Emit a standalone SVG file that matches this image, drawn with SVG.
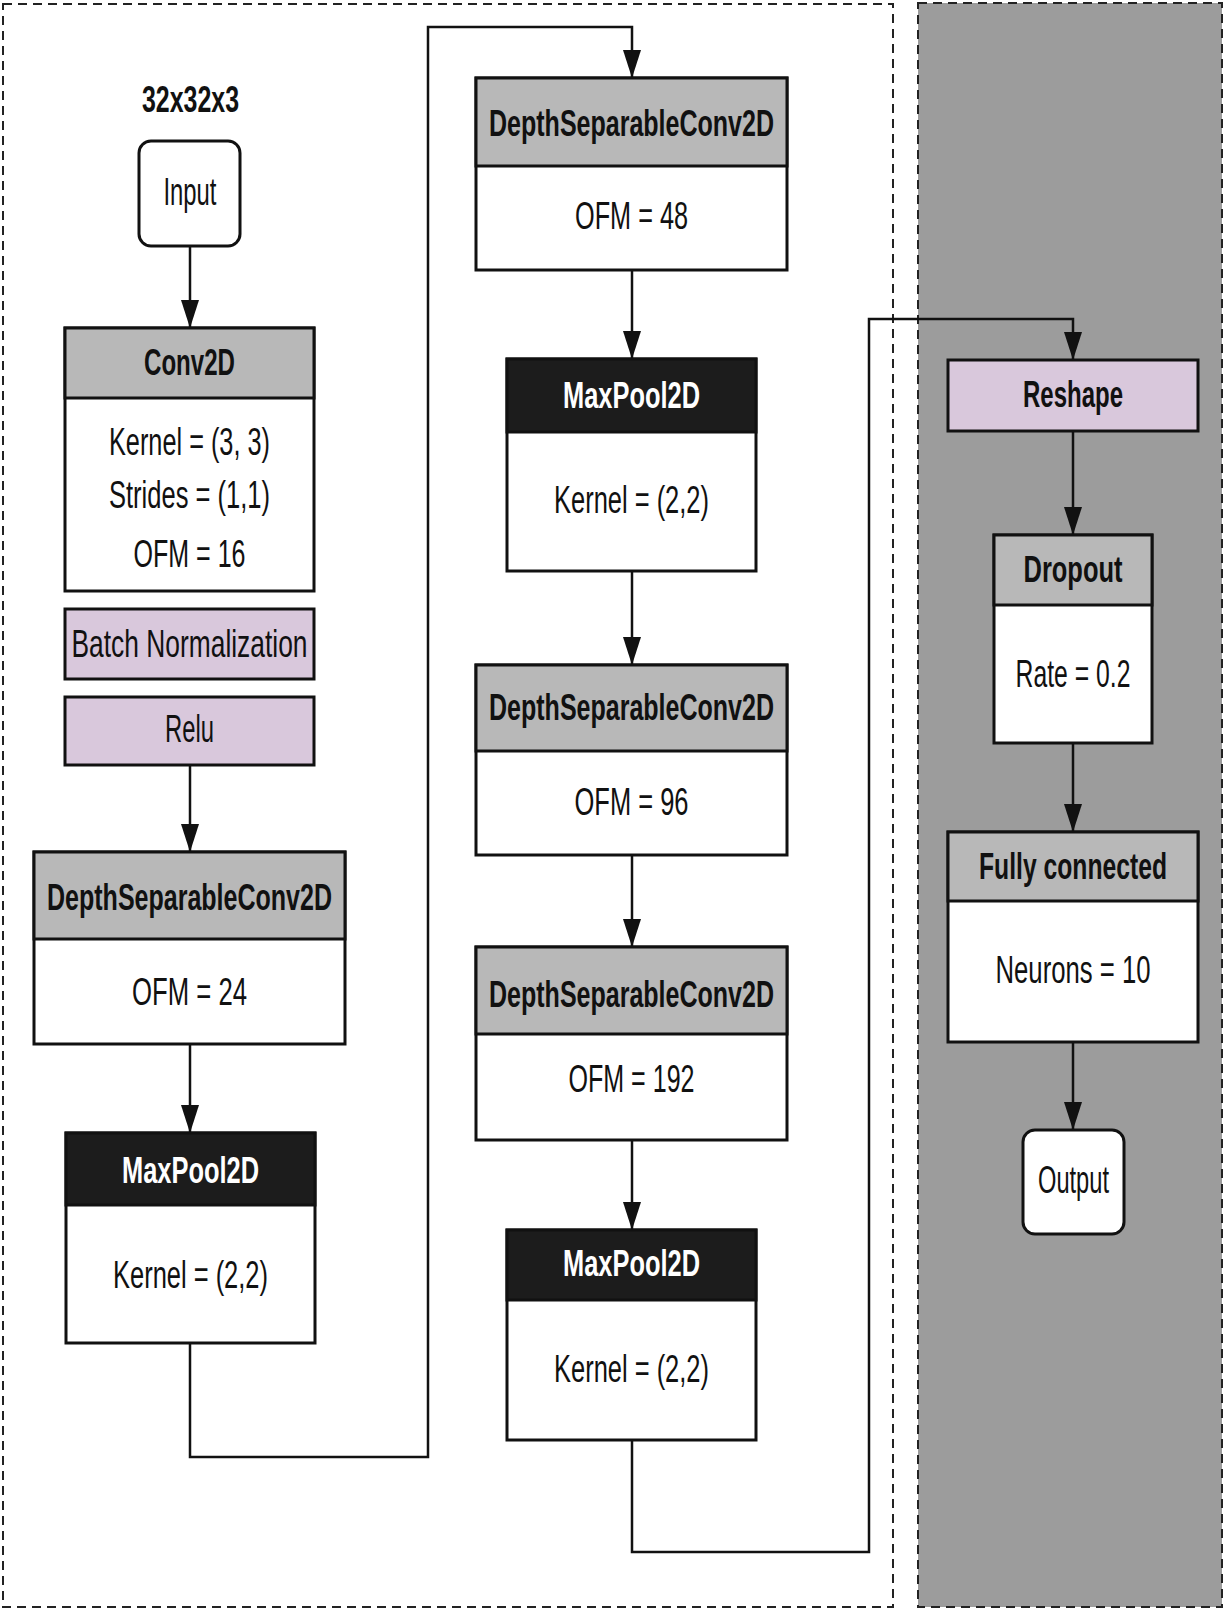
<svg xmlns="http://www.w3.org/2000/svg" width="1225" height="1610" viewBox="0 0 1225 1610">
<defs>
<style>
.box{stroke:#111;stroke-width:3;}
.hdr{fill:#b8b8b8;}
.blk{fill:#1c1c1c;}
.pur{fill:#d9c8dc;}
.wht{fill:#fff;}
.ht{font-family:"Liberation Sans",Arial,sans-serif;font-weight:bold;font-size:36px;fill:#111;text-anchor:middle;}
.htw{font-family:"Liberation Sans",Arial,sans-serif;font-weight:bold;font-size:36px;fill:#fff;text-anchor:middle;}
.bt{font-family:"Liberation Sans",Arial,sans-serif;font-size:39px;fill:#111;text-anchor:middle;}
.dash{fill:none;stroke:#222;stroke-width:2;stroke-dasharray:9 6;}
.conn{fill:none;stroke:#111;stroke-width:2.5;}
</style>
<marker id="arr" markerUnits="userSpaceOnUse" markerWidth="30" markerHeight="20" refX="28" refY="9" orient="auto">
<path d="M0,0 L28,9 L0,18 z" fill="#111"/>
</marker>
</defs>
<rect x="0" y="0" width="1225" height="1610" fill="#fff"/>
<g id="panels">
<rect x="918" y="3" width="304" height="1604" fill="#9c9c9c"/>
<rect class="dash" x="918" y="3" width="304" height="1604"/>
<rect class="dash" x="3" y="4" width="890" height="1603"/>
</g>
<g id="connectors">
<line class="conn" x1="190" y1="246" x2="190" y2="328" marker-end="url(#arr)"/>
<line class="conn" x1="190" y1="765" x2="190" y2="852" marker-end="url(#arr)"/>
<line class="conn" x1="190" y1="1044" x2="190" y2="1133" marker-end="url(#arr)"/>
<path class="conn" d="M190 1343 V1457 H428 V27 H632 V78" marker-end="url(#arr)"/>
<line class="conn" x1="632" y1="270" x2="632" y2="359" marker-end="url(#arr)"/>
<line class="conn" x1="632" y1="571" x2="632" y2="665" marker-end="url(#arr)"/>
<line class="conn" x1="632" y1="855" x2="632" y2="947" marker-end="url(#arr)"/>
<line class="conn" x1="632" y1="1140" x2="632" y2="1230" marker-end="url(#arr)"/>
<path class="conn" d="M632 1440 V1552 H869 V319 H1073 V360" marker-end="url(#arr)"/>
<line class="conn" x1="1073" y1="431" x2="1073" y2="535" marker-end="url(#arr)"/>
<line class="conn" x1="1073" y1="743" x2="1073" y2="832" marker-end="url(#arr)"/>
<line class="conn" x1="1073" y1="1042" x2="1073" y2="1130" marker-end="url(#arr)"/>
</g>
<g id="input-label">
<text class="ht" x="190.5" y="112" font-size="39" textLength="97" lengthAdjust="spacingAndGlyphs">32x32x3</text>
</g>
<g id="input">
<rect class="box wht" x="139" y="141" width="101" height="105" rx="12"/>
<text class="bt" x="190" y="205" font-size="35" textLength="53" lengthAdjust="spacingAndGlyphs">Input</text>
</g>
<g id="conv2d">
<rect class="box wht" x="65" y="328" width="249" height="263"/>
<rect class="box hdr" x="65" y="328" width="249" height="70"/>
<text class="ht" x="189.5" y="375" textLength="91" lengthAdjust="spacingAndGlyphs">Conv2D</text>
<text class="bt" x="189.5" y="455" textLength="161" lengthAdjust="spacingAndGlyphs">Kernel = (3, 3)</text>
<text class="bt" x="189.5" y="508" textLength="161" lengthAdjust="spacingAndGlyphs">Strides = (1,1)</text>
<text class="bt" x="189.5" y="567" textLength="112" lengthAdjust="spacingAndGlyphs">OFM = 16</text>
</g>
<g id="batchnorm">
<rect class="box pur" x="65" y="609" width="249" height="70"/>
<text class="bt" x="189.5" y="657" textLength="236" lengthAdjust="spacingAndGlyphs">Batch Normalization</text>
</g>
<g id="relu">
<rect class="box pur" x="65" y="697" width="249" height="68"/>
<text class="bt" x="189.5" y="742" textLength="49" lengthAdjust="spacingAndGlyphs">Relu</text>
</g>
<g id="dsc1">
<rect class="box wht" x="34" y="852" width="311" height="192"/>
<rect class="box hdr" x="34" y="852" width="311" height="87"/>
<text class="ht" x="189.5" y="910" textLength="285" lengthAdjust="spacingAndGlyphs">DepthSeparableConv2D</text>
<text class="bt" x="189.5" y="1005" textLength="115" lengthAdjust="spacingAndGlyphs">OFM = 24</text>
</g>
<g id="maxpool1">
<rect class="box wht" x="66" y="1133" width="249" height="210"/>
<rect class="box blk" x="66" y="1133" width="249" height="72"/>
<text class="htw" x="190.5" y="1183" textLength="137" lengthAdjust="spacingAndGlyphs">MaxPool2D</text>
<text class="bt" x="190.5" y="1288" textLength="155" lengthAdjust="spacingAndGlyphs">Kernel = (2,2)</text>
</g>
<g id="dsc2">
<rect class="box wht" x="476" y="78" width="311" height="192"/>
<rect class="box hdr" x="476" y="78" width="311" height="88"/>
<text class="ht" x="631.5" y="136" textLength="285" lengthAdjust="spacingAndGlyphs">DepthSeparableConv2D</text>
<text class="bt" x="631.5" y="229" textLength="113" lengthAdjust="spacingAndGlyphs">OFM = 48</text>
</g>
<g id="maxpool2">
<rect class="box wht" x="507" y="359" width="249" height="212"/>
<rect class="box blk" x="507" y="359" width="249" height="73"/>
<text class="htw" x="631.5" y="408" textLength="137" lengthAdjust="spacingAndGlyphs">MaxPool2D</text>
<text class="bt" x="631.5" y="513" textLength="155" lengthAdjust="spacingAndGlyphs">Kernel = (2,2)</text>
</g>
<g id="dsc3">
<rect class="box wht" x="476" y="665" width="311" height="190"/>
<rect class="box hdr" x="476" y="665" width="311" height="86"/>
<text class="ht" x="631.5" y="720" textLength="285" lengthAdjust="spacingAndGlyphs">DepthSeparableConv2D</text>
<text class="bt" x="631.5" y="815" textLength="114" lengthAdjust="spacingAndGlyphs">OFM = 96</text>
</g>
<g id="dsc4">
<rect class="box wht" x="476" y="947" width="311" height="193"/>
<rect class="box hdr" x="476" y="947" width="311" height="87"/>
<text class="ht" x="631.5" y="1007" textLength="285" lengthAdjust="spacingAndGlyphs">DepthSeparableConv2D</text>
<text class="bt" x="631.5" y="1092" textLength="126" lengthAdjust="spacingAndGlyphs">OFM = 192</text>
</g>
<g id="maxpool3">
<rect class="box wht" x="507" y="1230" width="249" height="210"/>
<rect class="box blk" x="507" y="1230" width="249" height="70"/>
<text class="htw" x="631.5" y="1276" textLength="137" lengthAdjust="spacingAndGlyphs">MaxPool2D</text>
<text class="bt" x="631.5" y="1382" textLength="155" lengthAdjust="spacingAndGlyphs">Kernel = (2,2)</text>
</g>
<g id="reshape">
<rect class="box pur" x="948" y="360" width="250" height="71"/>
<text class="ht" x="1073" y="407" textLength="100" lengthAdjust="spacingAndGlyphs">Reshape</text>
</g>
<g id="dropout">
<rect class="box wht" x="994" y="535" width="158" height="208"/>
<rect class="box hdr" x="994" y="535" width="158" height="70"/>
<text class="ht" x="1073" y="582" textLength="99" lengthAdjust="spacingAndGlyphs">Dropout</text>
<text class="bt" x="1073" y="687" textLength="115" lengthAdjust="spacingAndGlyphs">Rate = 0.2</text>
</g>
<g id="fully-connected">
<rect class="box wht" x="948" y="832" width="250" height="210"/>
<rect class="box hdr" x="948" y="832" width="250" height="69"/>
<text class="ht" x="1073" y="879" font-size="34" textLength="188" lengthAdjust="spacingAndGlyphs">Fully connected</text>
<text class="bt" x="1073" y="983" font-size="37" textLength="155" lengthAdjust="spacingAndGlyphs">Neurons = 10</text>
</g>
<g id="output">
<rect class="box wht" x="1023" y="1130" width="101" height="104" rx="12"/>
<text class="bt" x="1073.5" y="1193" font-size="36" textLength="71" lengthAdjust="spacingAndGlyphs">Output</text>
</g>
</svg>
